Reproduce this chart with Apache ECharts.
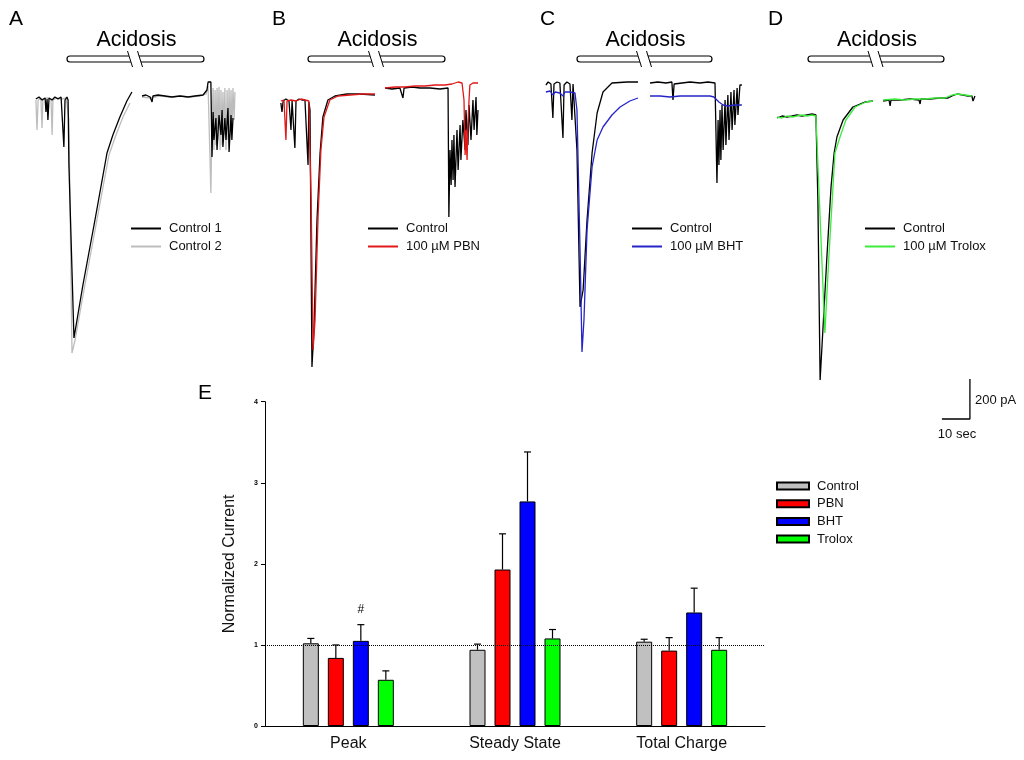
<!DOCTYPE html>
<html><head><meta charset="utf-8">
<script src="https://cdn.jsdelivr.net/npm/echarts@6/dist/echarts.min.js"></script>
<style>html,body{margin:0;padding:0;background:#fff}#c{width:1024px;height:760px}</style>
</head><body><div id="c"></div>
<script>
// ---------------- Panel E (bar chart) data ----------------
const categories = ['Peak', 'Steady State', 'Total Charge'];
const groupNames = ['Control', 'PBN', 'BHT', 'Trolox'];
const controlMean = [1.02, 0.94, 1.04];
const controlSem  = [0.06, 0.07, 0.03];
const pbnMean     = [0.84, 1.93, 0.93];
const pbnSem      = [0.16, 0.44, 0.16];
const bhtMean     = [1.05, 2.77, 1.40];
const bhtSem      = [0.20, 0.61, 0.30];
const troloxMean  = [0.57, 1.08, 0.94];
const troloxSem   = [0.11, 0.11, 0.15];
const bhtMarks    = ['#', '', ''];
const yTicks      = [0, 1, 2, 3, 4];

// ---------------- Panels A-D current traces: [time (s), current (pA)], null = acidosis break ----------------
const aControl1 = [[2.1,5],[3.2,15],[4.3,0],[5.4,10],[5.7,-60],[6.1,5],[6.4,-100],[6.8,10],[7.9,0],[8.9,15],[10.0,5],[11.1,15],[11.8,5],[12.1,-235],[12.5,0],[13.2,15],[13.6,0],[13.9,-325],[15.7,-1190],[18.9,-925],[23.2,-600],[27.5,-265],[29.6,-175],[32.1,-85],[34.6,-5],[36.4,40],
  null,
  [40.0,20],[41.4,25],[42.9,15],[43.6,-10],[43.9,20],[45.7,25],[48.2,20],[50.7,15],[53.6,20],[56.4,15],[58.9,20],[61.8,25],[63.2,50],[63.6,90],[64.3,85],[64.6,90],
  [65.0,-285],[65.4,-60],[65.7,-200],[66.4,-90],[66.8,-250],[67.5,-75],[68.2,-175],[68.6,-50],[68.9,-235],[69.6,-90],[70.0,-200],[70.7,-40],[71.1,-260],[71.8,-75],[72.1,-200],[72.5,-90]];
const aControl2 = [[2.1,0],[2.5,-150],[2.9,0],[3.9,10],[4.3,-140],[4.6,5],[6.1,10],[7.5,5],[7.9,-175],[8.2,0],[9.6,10],[11.4,5],[12.9,10],[13.6,0],[13.9,-100],[15.0,-1265],[16.1,-1200],[19.6,-925],[23.9,-600],[28.2,-275],[30.7,-175],[33.2,-85],[35.7,-15],
  null,
  [40,15],[42.9,10],[46.4,20],[50,15],[53.6,20],[57.1,15],[60.7,20],[62.9,30],[63.6,70],[64.3,75],[64.6,-465],[65.0,-100],[65.4,60],[65.7,-250],[66.1,50],[66.4,-225],[66.8,60],[67.1,-200],[67.5,65],[67.9,-250],[68.2,50],[68.6,-225],[68.9,40],[69.3,-175],[69.6,60],[70.0,-250],[70.4,50],[70.7,-200],[71.1,60],[71.4,-175],[71.8,50],[72.1,-150],[72.5,60],[72.9,-100],[73.2,40]];
const bControl = [[2.1,-15],[2.5,-60],[2.9,-5],[3.9,5],[5.0,-5],[5.7,-150],[6.1,-5],[6.8,0],[7.1,-240],[7.5,-5],[8.6,5],[9.6,0],[10.7,0],[11.8,-325],[12.1,-10],[12.5,-50],[13.2,-1335],[13.9,-1150],[15.0,-600],[16.1,-265],[17.1,-85],[18.9,0],[21.4,20],[25.7,30],[30.4,30],[35.7,25],
  null,
  [39.3,60],[41.8,55],[44.6,60],[45.7,10],[46.1,60],[48.9,65],[51.8,60],[55.4,60],[58.9,55],[61.8,60],
  [62.1,-585],[62.5,-250],[62.9,-425],[63.2,-200],[63.6,-400],[63.9,-175],[64.3,-435],[65.0,-150],[65.4,-350],[66.1,-125],[66.4,-300],[67.1,-100],[67.9,-250],[68.2,-50],[68.9,-225],[69.3,-25],[70.0,-200],[70.7,0],[71.1,-150],[71.8,15],[72.1,-175],[72.5,-50]];
const bPBN = [[2.1,-5],[3.2,0],[3.9,-200],[4.3,-5],[5.7,0],[7.5,-5],[9.3,5],[10.7,0],[12.1,-5],[12.9,-500],[13.6,-1250],[14.3,-1100],[15.4,-575],[16.4,-250],[17.5,-85],[19.6,0],[22.5,20],[26.8,25],[31.1,30],[35.7,30],
  null,
  [39.3,60],[42.9,65],[46.4,65],[50,70],[53.6,70],[57.1,75],[60.7,75],[63.2,80],[65.4,90],[66.8,85],[67.5,0],[67.9,-275],[68.2,-150],[68.6,-300],[68.9,-125],[69.3,0],[69.6,75],[70.7,85],[72.5,85]];
const cControl = [[2.1,75],[2.9,90],[3.9,80],[4.6,-90],[5.0,80],[6.1,90],[7.1,85],[8.2,-190],[8.6,75],[9.6,90],[10.7,80],[11.4,-100],[11.8,80],[12.5,70],[13.2,-250],[14.3,-1035],[15.4,-950],[16.8,-600],[18.6,-265],[20.4,-65],[22.5,40],[25.7,85],[31.1,90],[35.0,90],
  null,
  [39.3,85],[42.1,90],[45.0,85],[47.1,90],[47.5,0],[47.9,80],[50.7,85],[53.6,90],[57.1,85],[60.0,90],[62.5,85],[63.2,-415],[63.6,-100],[63.9,-325],[64.3,-50],[64.6,-300],[65.0,-25],[65.4,-250],[66.1,0],[66.4,-225],[67.1,25],[67.5,-200],[68.2,40],[68.6,-150],[69.3,50],[69.6,-125],[70.4,60],[70.7,-75],[71.4,75],[72.1,75]];
const cBHT = [[2.1,40],[3.6,45],[4.6,25],[5.4,40],[7.1,35],[8.2,20],[8.9,40],[10.7,40],[12.5,35],[13.2,-50],[14.3,-750],[15.0,-1260],[15.7,-1100],[16.8,-650],[18.6,-335],[20.4,-200],[22.5,-135],[25.7,-75],[28.6,-35],[32.1,-5],[35.0,10],
  null,
  [39.3,20],[42.9,20],[46.4,15],[50.0,20],[53.6,20],[57.1,20],[60.7,20],[62.1,15],[63.9,-10],[65.4,-25],[67.1,-30],[69.6,-25],[72.1,-25]];
const dControl = [[2.5,-90],[4.3,-80],[6.1,-85],[7.9,-80],[9.6,-75],[11.4,-80],[13.2,-75],[15.0,-70],[16.4,-75],[17.1,-500],[17.9,-1400],[20.4,-765],[21.8,-435],[22.9,-265],[23.9,-185],[26.1,-100],[29.6,-35],[33.9,-10],[36.8,-5],
  null,
  [40.4,-5],[42.5,0],[42.9,-30],[43.2,0],[46.4,0],[50,5],[53.2,0],[53.6,-20],[53.9,5],[57.1,5],[60.7,10],[63.6,10],[65,20],[66.8,30],[68.9,25],[70.7,20],[72.1,20],[72.5,-5],[73.2,20]];
const dTrolox = [[2.5,-85],[4.3,-90],[6.1,-80],[7.9,-85],[9.6,-80],[11.4,-75],[13.2,-80],[15.0,-75],[16.4,-80],[19.6,-1165],[21.1,-765],[22.5,-435],[23.2,-265],[25.0,-185],[27.1,-100],[30.4,-35],[34.3,-10],[36.8,-5],
  null,
  [40.4,0],[44.6,5],[48.2,0],[51.8,5],[55.4,5],[58.9,10],[62.5,10],[65,25],[67.1,30],[69.6,25],[72.1,20]];

// scale bar sizes
const scaleSec = 10;
const scalePA = 200;

// ---------------- layout ----------------
const FONT = '"Liberation Sans", Arial, sans-serif';
const traceGridLefts = [30, 275, 540, 770];
const panels = [
  {letter: 'A', lx: 9,   x1: 67,  x2: 204, lgLeft: 130},
  {letter: 'B', lx: 272, x1: 308, x2: 445, lgLeft: 367},
  {letter: 'C', lx: 540, x1: 577, x2: 712, lgLeft: 631},
  {letter: 'D', lx: 768, x1: 808, x2: 944, lgLeft: 864}
];
const BAR_W = 16, BAR_STEP = 25;

function prep(arr) { return arr.map(p => p === null ? ['-', '-'] : p); }

const grids = traceGridLefts.map(l => ({left: l, top: 50, width: 224, height: 370}));
grids.push({left: 265, top: 401.7, width: 500, height: 324.3});

const xAxes = traceGridLefts.map((l, i) => ({type: 'value', gridIndex: i, min: 0, max: 80, show: false}));
xAxes.push({
  type: 'category', gridIndex: 4, data: categories,
  axisLine: {show: true, lineStyle: {color: '#000', width: 1}},
  axisTick: {show: false},
  axisLabel: {fontSize: 16, color: '#111', margin: 10, fontFamily: FONT}
});
const yAxes = traceGridLefts.map((l, i) => ({type: 'value', gridIndex: i, min: -1600, max: 250, show: false}));
yAxes.push({
  type: 'value', gridIndex: 4, min: yTicks[0], max: yTicks[yTicks.length - 1], interval: 1,
  name: 'Normalized Current', nameLocation: 'middle', nameGap: 27,
  nameTextStyle: {fontSize: 16, color: '#111', fontFamily: FONT},
  axisLine: {show: true, lineStyle: {color: '#000', width: 1}},
  axisTick: {show: true, length: 4, lineStyle: {color: '#000'}},
  axisLabel: {fontSize: 7, fontWeight: 'bold', color: '#000', margin: 7},
  splitLine: {show: false}
});

function trace(name, gi, data, color, z) {
  return {
    type: 'line', name: name, xAxisIndex: gi, yAxisIndex: gi, data: prep(data),
    symbol: 'none', showSymbol: false, connectNulls: false, clip: false, z: z,
    lineStyle: {color: color, width: 1.3}, itemStyle: {color: color}, animation: false
  };
}

const series = [
  trace('A|Control 2', 0, aControl2, '#bdbdbd', 2),
  trace('A|Control 1', 0, aControl1, '#000000', 3),
  trace('B|Control', 1, bControl, '#000000', 2),
  trace('B|100 µM PBN', 1, bPBN, '#e01818', 3),
  trace('C|Control', 2, cControl, '#000000', 2),
  trace('C|100 µM BHT', 2, cBHT, '#2424c8', 3),
  trace('D|Control', 3, dControl, '#000000', 2),
  trace('D|100 µM Trolox', 3, dTrolox, '#3cec3c', 3)
];
// scale bar in panel D coordinates
const sbT = 71.4, sbP = -1595;
series.push({
  type: 'line', name: 'scale', xAxisIndex: 3, yAxisIndex: 3, clip: false, symbol: 'none',
  data: [[sbT - scaleSec, sbP], [sbT, sbP], [sbT, sbP + scalePA]],
  lineStyle: {color: '#000', width: 1.3}, silent: true, animation: false
});

const means = [controlMean, pbnMean, bhtMean, troloxMean];
const sems = [controlSem, pbnSem, bhtSem, troloxSem];
const barColors = ['#c0c0c0', '#ff0000', '#0000ff', '#00ff00'];
groupNames.forEach((g, k) => {
  const s = {
    type: 'bar', name: 'E|' + g, xAxisIndex: 4, yAxisIndex: 4, data: means[k],
    barWidth: BAR_W, barGap: '56.25%', barCategoryGap: '45%',
    itemStyle: {color: barColors[k], borderColor: '#000', borderWidth: 1}, animation: false, z: 2
  };
  if (k === 0) {
    s.markLine = {silent: true, symbol: 'none', label: {show: false},
      lineStyle: {type: 'dotted', color: '#000', width: 1}, data: [{yAxis: 1}], animation: false};
  }
  series.push(s);
});
const errData = [];
groupNames.forEach((g, k) => categories.forEach((c, ci) => {
  errData.push([ci, means[k][ci], means[k][ci] + sems[k][ci], k]);
}));
series.push({
  type: 'custom', name: 'err', xAxisIndex: 4, yAxisIndex: 4, data: errData, z: 5,
  encode: {x: 0, y: 2}, animation: false, silent: true,
  renderItem: function (params, api) {
    const ci = api.value(0), m = api.value(1), top = api.value(2), k = api.value(3);
    const p0 = api.coord([ci, m]), p1 = api.coord([ci, top]);
    const x = p0[0] + (k - 1.5) * BAR_STEP;
    const ch = [
      {type: 'line', shape: {x1: x, y1: p0[1], x2: x, y2: p1[1]}, style: {stroke: '#000', lineWidth: 1.2}},
      {type: 'line', shape: {x1: x - 3.5, y1: p1[1], x2: x + 3.5, y2: p1[1]}, style: {stroke: '#000', lineWidth: 1.2}}
    ];
    if (k === 2 && bhtMarks[ci]) {
      ch.push({type: 'text', style: {text: bhtMarks[ci], x: x, y: p1[1] - 15, textAlign: 'center', textVerticalAlign: 'middle', font: '12px ' + FONT, fill: '#000'}});
    }
    return {type: 'group', children: ch};
  }
});

const stripName = n => n.split('|')[1];
const legends = panels.map((p, i) => ({
  left: p.lgLeft, top: 222, orient: 'vertical', padding: 0, itemGap: 5,
  itemWidth: 30, itemHeight: 12, selectedMode: false,
  itemStyle: {opacity: 0},
  data: series.filter(s => s.name && s.name.startsWith(p.letter + '|')).map(s => s.name)
        .sort((a, b) => (a.indexOf('Control') >= 0 ? 0 : 1) - (b.indexOf('Control') >= 0 ? 0 : 1) || a.localeCompare(b)),
  formatter: stripName,
  textStyle: {fontSize: 13, color: '#111', fontFamily: FONT, padding: [0, 0, 0, 3]}
}));
legends.push({
  left: 776, top: 479.5, orient: 'vertical', padding: 0, itemGap: 4.7,
  itemWidth: 32, itemHeight: 7, icon: 'rect', selectedMode: false,
  data: groupNames.map(g => 'E|' + g), formatter: stripName,
  textStyle: {fontSize: 13, color: '#111', fontFamily: FONT, padding: [0, 0, 0, 3]}
});

const graphic = [];
panels.forEach(p => {
  const mid = (p.x1 + p.x2) / 2;
  graphic.push({type: 'text', left: p.lx, top: 9, style: {text: p.letter, font: '21px ' + FONT, fill: '#000'}});
  graphic.push({type: 'text', x: mid + 1, y: 40, style: {text: 'Acidosis', font: '21.5px ' + FONT, fill: '#000', textAlign: 'center', textVerticalAlign: 'middle'}});
  graphic.push({type: 'rect', shape: {x: p.x1, y: 56, width: p.x2 - p.x1, height: 6, r: 3}, style: {fill: '#fff', stroke: '#000', lineWidth: 1.2}});
  const s1 = mid - 8, s2 = mid + 2;
  graphic.push({type: 'polygon', shape: {points: [[s1, 52], [s2, 52], [s2 + 5, 67], [s1 + 5, 67]]}, style: {fill: '#fff'}});
  graphic.push({type: 'line', shape: {x1: s1, y1: 51, x2: s1 + 5, y2: 67}, style: {stroke: '#000', lineWidth: 1}});
  graphic.push({type: 'line', shape: {x1: s2, y1: 51, x2: s2 + 5, y2: 67}, style: {stroke: '#000', lineWidth: 1}});
});
graphic.push({type: 'text', left: 198, top: 383, style: {text: 'E', font: '21px ' + FONT, fill: '#000'}});
graphic.push({type: 'text', x: 975, y: 400, style: {text: scalePA + ' pA', font: '13px ' + FONT, fill: '#111', textVerticalAlign: 'middle'}});
graphic.push({type: 'text', x: 957, y: 434, style: {text: scaleSec + ' sec', font: '13px ' + FONT, fill: '#111', textAlign: 'center', textVerticalAlign: 'middle'}});

const chart = echarts.init(document.getElementById('c'), null, {renderer: 'canvas'});
chart.setOption({
  backgroundColor: '#fff',
  animation: false,
  textStyle: {fontFamily: FONT},
  grid: grids, xAxis: xAxes, yAxis: yAxes,
  legend: legends,
  series: series,
  graphic: graphic
});
</script></body></html>
